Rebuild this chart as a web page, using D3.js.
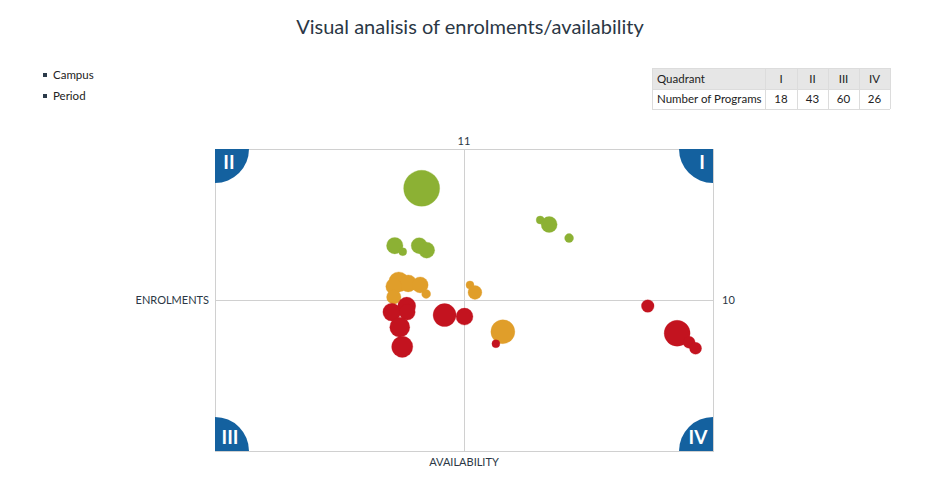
<!DOCTYPE html>
<html><head><meta charset="utf-8">
<script src="https://cdn.jsdelivr.net/npm/d3@7/dist/d3.min.js"></script>
<style>
body{margin:0;background:#fff;font-family:Lato,"Open Sans",sans-serif;}
</style></head>
<body><svg id="chart" width="939" height="480"></svg>
<script>
const title = "Visual analisis of enrolments/availability";
const legendItems = ["Campus", "Period"];
const quadrants = ["I", "II", "III", "IV"];
const programCounts = [18, 43, 60, 26];
const quadrantHeader = "Quadrant";
const countHeader = "Number of Programs";
const xLabel = "AVAILABILITY";
const yLabel = "ENROLMENTS";
const xCenterLabel = "11";
const yCenterLabel = "10";

const seriesNames = ["green", "orange", "red"];
const seriesColors = ["#8cb134", "#e09e2a", "#c3131f"];
// availability (x), enrolments (y), size
const greenX = [4.15, 3.61, 3.77, 4.10, 4.25, 6.53, 6.71, 7.11];
const greenY = [10.74, 10.36, 10.32, 10.36, 10.33, 10.53, 10.50, 10.41];
const greenS = [81, 17, 4, 16, 16, 4, 16, 5];
const orangeX = [3.69, 3.88, 4.12, 3.59, 3.59, 4.24, 5.12, 5.22, 5.78];
const orangeY = [10.12, 10.11, 10.10, 10.09, 10.02, 10.04, 10.10, 10.05, 9.79];
const orangeS = [25, 18, 16, 16, 13, 5, 4, 12, 36];
const redX = [4.61, 5.01, 3.55, 3.85, 3.86, 3.71, 3.76, 5.64, 8.69, 9.28, 9.52, 9.65];
const redY = [9.90, 9.89, 9.92, 9.96, 9.92, 9.82, 9.69, 9.71, 9.96, 9.78, 9.72, 9.68];
const redS = [33, 18, 20, 20, 16, 25, 28, 4, 10, 42, 9, 9];

const xDomain = [0, 10];
const yDomain = [9, 11];
const xMid = 5, yMid = 10;

const svg = d3.select("#chart");
const plot = {left: 215, right: 713, top: 149, bottom: 451};
const x = d3.scaleLinear().domain(xDomain).range([plot.left, plot.right]);
const y = d3.scaleLinear().domain(yDomain).range([plot.bottom, plot.top]);
const r = d3.scaleSqrt().domain([0, 81]).range([0, 18]);

svg.append("text").attr("x", 470).attr("y", 34).attr("text-anchor", "middle")
  .attr("font-size", 20).attr("fill", "#2b3745").text(title);

// legend
const lg = svg.append("g");
legendItems.forEach((t, i) => {
  lg.append("rect").attr("x", 43).attr("y", 73 + i * 21).attr("width", 4).attr("height", 4).attr("fill", "#2b3a4a");
  lg.append("text").attr("x", 53).attr("y", 79 + i * 21).attr("font-size", 11.5).attr("fill", "#222").text(t);
});

// table
const tg = svg.append("g");
const colX = [652, 765, 797, 828, 859, 890];
const rowY = [68, 89, 109];
const headerRow = [quadrantHeader].concat(quadrants);
const valueRow = [countHeader].concat(programCounts.map(String));
tg.append("rect").attr("x", colX[0]).attr("y", rowY[0]).attr("width", colX[5] - colX[0]).attr("height", rowY[1] - rowY[0]).attr("fill", "#e6e6e6");
[headerRow, valueRow].forEach((row, ri) => {
  row.forEach((t, ci) => {
    const cx = ci === 0 ? colX[0] + 5 : (colX[ci] + colX[ci + 1]) / 2;
    tg.append("text").attr("x", cx).attr("y", (rowY[ri] + rowY[ri + 1]) / 2 + 4)
      .attr("text-anchor", ci === 0 ? "start" : "middle").attr("font-size", 11.5).attr("fill", "#222").text(t);
  });
});
colX.forEach(cx => tg.append("line").attr("x1", cx + 0.5).attr("x2", cx + 0.5).attr("y1", rowY[0]).attr("y2", rowY[2]).attr("stroke", "#dcdcdc"));
rowY.forEach(ry => tg.append("line").attr("x1", colX[0]).attr("x2", colX[5]).attr("y1", ry + 0.5).attr("y2", ry + 0.5).attr("stroke", "#dcdcdc"));

// plot frame & center lines
const g = svg.append("g");
g.append("rect").attr("x", plot.left + 0.5).attr("y", plot.top + 0.5).attr("width", plot.right - plot.left).attr("height", plot.bottom - plot.top)
  .attr("fill", "none").attr("stroke", "#d0d0d0");
g.append("line").attr("x1", Math.round(x(xMid)) + 0.5).attr("x2", Math.round(x(xMid)) + 0.5).attr("y1", plot.top).attr("y2", plot.bottom).attr("stroke", "#d0d0d0");
g.append("line").attr("x1", plot.left).attr("x2", plot.right).attr("y1", Math.round(y(yMid)) + 0.5).attr("y2", Math.round(y(yMid)) + 0.5).attr("stroke", "#d0d0d0");

// quadrant corner markers
const qr = 34;
const qColor = "#14619f";
const arc = d3.arc().innerRadius(0).outerRadius(qr);
const corners = [
  {q: "I", cx: plot.right, cy: plot.top, a0: Math.PI, a1: 1.5 * Math.PI, tx: plot.right - 11, ty: plot.top + 20},
  {q: "II", cx: plot.left, cy: plot.top, a0: Math.PI / 2, a1: Math.PI, tx: plot.left + 14, ty: plot.top + 20},
  {q: "III", cx: plot.left, cy: plot.bottom, a0: 0, a1: Math.PI / 2, tx: plot.left + 15, ty: plot.bottom - 7},
  {q: "IV", cx: plot.right, cy: plot.bottom, a0: 1.5 * Math.PI, a1: 2 * Math.PI, tx: plot.right - 15, ty: plot.bottom - 7}
];
corners.forEach(c => {
  g.append("path").attr("transform", `translate(${c.cx},${c.cy})`)
    .attr("d", arc({startAngle: c.a0, endAngle: c.a1})).attr("fill", qColor);
  g.append("text").attr("x", c.tx).attr("y", c.ty).attr("text-anchor", "middle").attr("font-size", 19)
    .attr("font-weight", "bold").attr("fill", "#fff").text(c.q);
});

// axis labels
svg.append("text").attr("x", x(xMid)).attr("y", plot.top - 4).attr("text-anchor", "middle").attr("font-size", 11).attr("fill", "#2b3745").text(xCenterLabel);
svg.append("text").attr("x", plot.right + 9).attr("y", y(yMid) + 4).attr("font-size", 11).attr("fill", "#2b3745").text(yCenterLabel);
svg.append("text").attr("x", plot.left - 6).attr("y", y(yMid) + 4).attr("text-anchor", "end").attr("font-size", 11).attr("fill", "#2b3745").text(yLabel);
svg.append("text").attr("x", x(xMid)).attr("y", plot.bottom + 15).attr("text-anchor", "middle").attr("font-size", 11).attr("fill", "#2b3745").text(xLabel);

// bubbles
const series = [
  {xs: greenX, ys: greenY, ss: greenS, color: seriesColors[0]},
  {xs: orangeX, ys: orangeY, ss: orangeS, color: seriesColors[1]},
  {xs: redX, ys: redY, ss: redS, color: seriesColors[2]}
];
series.forEach(s => {
  const data = s.xs.map((v, i) => ({x: v, y: s.ys[i], s: s.ss[i]}));
  g.append("g").selectAll("circle").data(data).join("circle")
    .attr("cx", d => x(d.x)).attr("cy", d => y(d.y)).attr("r", d => r(d.s))
    .attr("fill", s.color).attr("stroke", s.color).attr("stroke-opacity", 0.6).attr("stroke-width", 0.5);
});
</script></body></html>
